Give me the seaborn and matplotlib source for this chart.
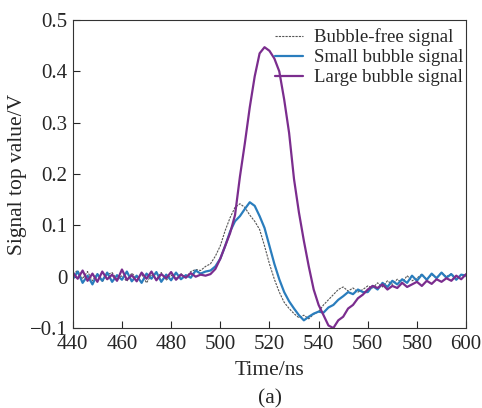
import numpy as np
import pandas as pd
import matplotlib
matplotlib.use("Agg")
import matplotlib.pyplot as plt
import seaborn as sns

# time axis, 2 ns step
time_ns = list(range(440, 601, 2))

bubble_free = [
    0.005, 0.012, -0.004, 0.010, -0.008, 0.006, -0.010, 0.004, 0.008, -0.006,
    0.002, -0.009, 0.007, -0.003, 0.005, -0.012, 0.004, -0.005, 0.008, -0.007,
    0.003, -0.004, 0.006, -0.002, 0.010, 0.014, 0.012, 0.020,
    0.025, 0.040, 0.060, 0.090, 0.115, 0.135, 0.142, 0.135, 0.120, 0.108,
    0.092, 0.060, 0.025, -0.005, -0.030, -0.050, -0.062, -0.072, -0.080, -0.075,
    -0.082, -0.073, -0.068, -0.055, -0.045, -0.035, -0.025, -0.020, -0.028, -0.022,
    -0.030, -0.025, -0.018, -0.022, -0.012, -0.020, -0.008, -0.015, -0.005, -0.012,
    0.002, -0.008, -0.003, 0.005, -0.006, 0.004, -0.002, 0.008, 0.000, 0.006,
    -0.004, 0.003, 0.000,
]

small_bubble = [
    -0.005, 0.010, -0.012, 0.002, -0.015, 0.005, -0.008, 0.008, -0.010, 0.003,
    -0.006, 0.010, -0.009, 0.002, -0.012, 0.006, -0.004, 0.009, -0.010, 0.004,
    -0.007, 0.008, -0.005, 0.003, -0.002, 0.012, 0.006, 0.010,
    0.012, 0.020, 0.035, 0.060, 0.088, 0.108, 0.118, 0.132, 0.145, 0.138,
    0.118, 0.095, 0.060, 0.025, -0.005, -0.030, -0.048, -0.062, -0.075, -0.085,
    -0.078, -0.072, -0.068, -0.070, -0.060, -0.055, -0.045, -0.038, -0.030, -0.034,
    -0.025, -0.030, -0.030, -0.018, -0.025, -0.012, -0.020, -0.008, -0.015, -0.005,
    -0.012, 0.002, -0.008, 0.004, -0.006, 0.006, -0.003, 0.008, -0.002, 0.005,
    -0.006, 0.004, 0.002,
]

large_bubble = [
    0.008, -0.004, 0.012, -0.008, 0.006, -0.010, 0.010, -0.005, 0.004, -0.008,
    0.014, -0.006, 0.003, -0.009, 0.008, -0.004, 0.010, -0.007, 0.005, -0.003,
    0.009, -0.006, 0.004, -0.002, 0.007, 0.000, 0.004, 0.002,
    0.005, 0.015, 0.035, 0.060, 0.085, 0.120, 0.195, 0.260, 0.330, 0.390,
    0.435, 0.447, 0.440, 0.425, 0.400, 0.345, 0.280, 0.190, 0.125, 0.070,
    0.020, -0.025, -0.055, -0.075, -0.095, -0.100, -0.085, -0.078, -0.062, -0.055,
    -0.042, -0.035, -0.025, -0.018, -0.022, -0.015, -0.025, -0.018, -0.022, -0.012,
    -0.020, -0.015, -0.010, -0.018, -0.008, -0.014, -0.005, -0.010, -0.003, -0.008,
    0.002, -0.005, 0.005,
]

x_ticks = [440, 460, 480, 500, 520, 540, 560, 580, 600]
y_ticks = [-0.1, 0, 0.1, 0.2, 0.3, 0.4, 0.5]
y_tick_labels = ["\u22120.1", "0", "0.1", "0.2", "0.3", "0.4", "0.5"]

sns.set_style("ticks")
plt.rcParams["font.family"] = ["Liberation Serif", "DejaVu Serif"]

fig = plt.figure(figsize=(4.82, 4.08), dpi=100)
ax = fig.add_axes([0.151, 0.196, 0.816, 0.755])

sns.lineplot(x=time_ns, y=bubble_free, ax=ax, color="#555555", lw=0.8,
             linestyle=(0, (2, 1)), label="Bubble-free signal")
sns.lineplot(x=time_ns, y=small_bubble, ax=ax, color="#2a7dbd", lw=1.6,
             label="Small bubble signal")
sns.lineplot(x=time_ns, y=large_bubble, ax=ax, color="#7b2d8e", lw=1.6,
             label="Large bubble signal")

ax.set_xlim(440, 600)
ax.set_ylim(-0.1, 0.5)
ax.set_xticks(x_ticks)
ax.set_yticks(y_ticks)
ax.set_yticklabels(y_tick_labels)
ax.tick_params(direction="in", labelsize=15, length=5, width=0.8)
ax.tick_params(axis="x", pad=5)
ax.tick_params(axis="y", pad=4)
for s in ax.spines.values():
    s.set_linewidth(0.8)
    s.set_color("#333333")

ax.set_xlabel("Time/ns", fontsize=15.5, labelpad=5)
ax.set_ylabel("Signal top value/V", fontsize=15.5, labelpad=2)

ax.legend(loc="upper right", bbox_to_anchor=(1.015, 1.0), frameon=False,
          fontsize=13.5, handlelength=1.5, borderaxespad=0.05,
          labelspacing=0.15, handletextpad=0.6)

fig.text(0.56, 0.01, "(a)", ha="center", fontsize=15.5)

fig.savefig("out.png", dpi=100)
